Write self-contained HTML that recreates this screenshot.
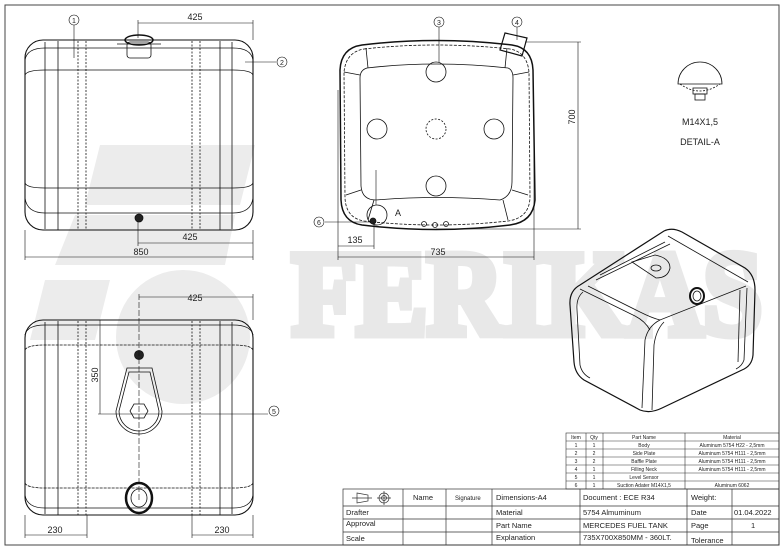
<!DOCTYPE html>
<html><head><meta charset="utf-8"><style>
html,body{margin:0;padding:0;background:#fff}
svg{display:block}
text{font-family:"Liberation Sans",sans-serif;fill:#222}
text.wm{font-family:"Liberation Serif",serif;font-weight:bold;fill:#e8e8e8;stroke:#e8e8e8;stroke-width:9;stroke-linejoin:miter}
</style></head><body>
<svg width="784" height="552" viewBox="0 0 784 552" xmlns="http://www.w3.org/2000/svg">
<!-- watermark -->
<g fill="#ececec">
<polygon points="100,145 255,145 240,205 85,205"/>
<polygon points="75,215 235,215 225,265 55,265"/>
<polygon points="45,280 110,280 95,340 30,340"/>
<circle cx="183" cy="337" r="67"/>
</g>
<text class="wm" x="292" y="334" font-size="120" textLength="470" lengthAdjust="spacingAndGlyphs">FERIKAS</text>
<!-- frame -->
<rect x="5" y="5" width="774" height="540" fill="none" stroke="#444" stroke-width="1"/>

<g fill="none" stroke="#111" stroke-width="0.8">
<!-- top-left view -->
<rect x="25" y="40" width="228" height="190" rx="18" stroke-width="1.1"/>
<path d="M25,60 Q27,48 45,48 L233,48 Q251,48 253,60"/>
<path d="M25,75 Q27,70 45,70 L233,70 Q251,70 253,75"/>
<path d="M25,183 Q27,188 45,188 L233,188 Q251,188 253,183"/>
<path d="M25,198 Q27,213 45,213 L233,213 Q251,213 253,198"/>
<line x1="45" y1="42" x2="45" y2="229"/><line x1="58" y1="41" x2="58" y2="230"/>
<line x1="220" y1="41" x2="220" y2="230"/><line x1="232" y1="42" x2="232" y2="229"/>
<g stroke-dasharray="2,1.5"><line x1="78" y1="41" x2="78" y2="230"/><line x1="86" y1="41" x2="86" y2="230"/>
<line x1="192" y1="41" x2="192" y2="230"/><line x1="200" y1="41" x2="200" y2="230"/></g>
<ellipse cx="139" cy="40" rx="14" ry="5" stroke-width="1.5"/>
<rect x="127" y="42" width="24" height="16" rx="3"/>
<path d="M117,44 H161"/>
<circle cx="139" cy="218" r="4" fill="#222"/>
<g stroke-width="0.6">
<line x1="138" y1="23" x2="253" y2="23"/><line x1="138" y1="20" x2="138" y2="38"/><line x1="253" y1="20" x2="253" y2="40"/>
<line x1="138" y1="243" x2="253" y2="243"/><line x1="138" y1="222" x2="138" y2="246"/><line x1="253" y1="230" x2="253" y2="260"/>
<line x1="25" y1="257" x2="253" y2="257"/><line x1="25" y1="230" x2="25" y2="260"/>
<line x1="74" y1="25" x2="74" y2="58"/><line x1="245" y1="62" x2="276" y2="62"/>
</g>
<circle cx="74" cy="20" r="5" stroke-width="0.6"/><circle cx="282" cy="62" r="5" stroke-width="0.6"/>

<!-- bottom-left view -->
<rect x="25" y="320" width="228" height="195" rx="18" stroke-width="1.1"/>
<path d="M25,335 Q27,325 45,325 L233,325 Q251,325 253,335"/>
<path d="M25,350 Q27,345 45,345 L233,345 Q251,345 253,350" stroke-dasharray="3,1"/>
<path d="M25,483 Q27,488 45,488 L233,488 Q251,488 253,483" stroke-dasharray="3,1"/>
<path d="M25,495 Q27,508 45,508 L233,508 Q251,508 253,495"/>
<line x1="45" y1="322" x2="45" y2="514"/><line x1="58" y1="321" x2="58" y2="515"/>
<line x1="220" y1="321" x2="220" y2="515"/><line x1="232" y1="322" x2="232" y2="514"/>
<g stroke-dasharray="2,1.5"><line x1="78" y1="321" x2="78" y2="515"/><line x1="86" y1="321" x2="86" y2="515"/>
<line x1="192" y1="321" x2="192" y2="515"/><line x1="200" y1="321" x2="200" y2="515"/></g>
<circle cx="139" cy="355" r="4.5" fill="#222"/>
<path d="M127,368 L152,368 L162,411 A23,23 0 1,1 116,411 Z"/>
<path d="M129,372 L150,372 L159,411 A20,20 0 1,1 119,411 Z"/>
<polygon points="134,404 144,404 148,411 144,418 134,418 130,411"/>
<ellipse cx="139" cy="498" rx="13" ry="15" stroke-width="2.5"/>
<ellipse cx="139" cy="498" rx="8" ry="9"/>
<g stroke-width="0.6">
<line x1="139" y1="297" x2="253" y2="297"/><line x1="139" y1="294" x2="139" y2="500" stroke-dasharray="6,2"/><line x1="253" y1="294" x2="253" y2="320"/>
<line x1="100" y1="320" x2="100" y2="414"/><line x1="98" y1="414" x2="268" y2="414"/>
<line x1="25" y1="535" x2="87" y2="535"/><line x1="25" y1="515" x2="25" y2="538"/><line x1="87" y1="515" x2="87" y2="538"/>
<line x1="192" y1="535" x2="253" y2="535"/><line x1="192" y1="515" x2="192" y2="538"/><line x1="253" y1="515" x2="253" y2="538"/>
</g>
<circle cx="274" cy="411" r="5" stroke-width="0.6"/>

<!-- middle view -->
<path d="M362,45 Q436,36 512,45 Q532,48 533,70 L535,200 Q533,222 510,225 Q436,234 362,225 Q342,222 341,200 L340,70 Q341,48 362,45 Z" stroke-width="1.5"/>
<path d="M364,49 Q436,41 510,49 Q527,52 529,72 L530,198 Q529,218 508,221 Q436,229 364,221 Q346,218 345,198 L344,72 Q346,52 364,49 Z" stroke-dasharray="3,1.5"/>
<path d="M367,68 Q436,60 508,68 Q513,70 513,78 L512,182 Q512,196 500,200 Q436,195 376,200 Q362,200 361,186 L360,78 Q360,70 367,68 Z"/>
<line x1="360" y1="75" x2="344" y2="72"/><line x1="513" y1="75" x2="529" y2="72"/>
<line x1="361" y1="190" x2="346" y2="195"/><line x1="512" y1="190" x2="528" y2="195"/>
<line x1="368" y1="68" x2="366" y2="48"/><line x1="505" y1="68" x2="507" y2="48"/>
<line x1="374" y1="200" x2="368" y2="220"/><line x1="503" y1="200" x2="508" y2="220"/>
<circle cx="436" cy="72" r="10"/><circle cx="377" cy="129" r="10"/><circle cx="494" cy="129" r="10"/><circle cx="436" cy="186" r="10"/>
<circle cx="436" cy="129" r="10" stroke-dasharray="2,1.5"/>
<circle cx="424" cy="224" r="2.5"/><circle cx="435" cy="225" r="2.5"/><circle cx="446" cy="224" r="2.5"/>
<polygon points="505,33 527,38 522,56 500,50" stroke-width="1.2"/>
<circle cx="377" cy="215" r="10"/>
<circle cx="373" cy="221" r="3" fill="#222"/>
<g stroke-width="0.6">
<line x1="525" y1="42" x2="581" y2="42"/><line x1="436" y1="229" x2="581" y2="229"/><line x1="578" y1="42" x2="578" y2="229"/>
<line x1="338" y1="90" x2="338" y2="260"/><line x1="534" y1="150" x2="534" y2="260"/>
<line x1="338" y1="257" x2="534" y2="257"/>
<line x1="338" y1="246" x2="374" y2="246"/><line x1="374" y1="222" x2="374" y2="249"/>
<line x1="325" y1="222" x2="370" y2="222"/>
<line x1="376" y1="170" x2="376" y2="205"/>
<line x1="439" y1="27" x2="439" y2="62"/><line x1="517" y1="27" x2="517" y2="40"/>
</g>
<circle cx="439" cy="22" r="5" stroke-width="0.6"/><circle cx="517" cy="22" r="5" stroke-width="0.6"/><circle cx="319" cy="222" r="5" stroke-width="0.6"/>

<!-- detail A -->
<path d="M678,84 A22,22 0 0,1 722,84 Z"/>
<path d="M680,84 Q700,98 720,84" stroke-dasharray="2,1.5"/>
<rect x="693" y="88" width="14" height="6"/><rect x="695" y="94" width="10" height="6"/>

<!-- iso view -->
<path d="M664,231 Q672,227 682,232 L745,268 Q755,275 755,290 L753,355 Q752,366 742,370 L662,408 Q650,414 640,410 L584,380 Q575,374 574,362 L570,305 Q569,291 580,285 Z" stroke-width="1.2"/>
<path d="M668,236 L748,282"/>
<path d="M580,289 L635,316 Q645,321 650,330"/>
<path d="M588,286 L640,312 Q652,318 660,320 L746,286"/>
<path d="M660,320 Q648,326 645,340 L642,408"/>
<path d="M664,322 Q656,330 654,345 L652,410"/>
<path d="M583,292 Q576,298 577,310 L580,365 Q582,374 590,378"/>
<path d="M747,288 L744,360 Q742,366 736,369"/><path d="M740,290 L738,362"/>
<path d="M600,275 L665,242"/><path d="M596,280 L670,244"/>
<path d="M632,262 L655,255 Q670,258 670,268 Q668,278 656,278 Z"/>
<ellipse cx="656" cy="268" rx="5" ry="3"/>
<ellipse cx="697" cy="296" rx="7" ry="8" stroke-width="2"/>
<ellipse cx="697" cy="296" rx="4" ry="5"/>
</g>
<g font-size="9" text-anchor="middle">
<text x="195" y="20">425</text><text x="190" y="240">425</text><text x="141" y="255">850</text>
<text x="195" y="301">425</text><text x="55" y="533">230</text><text x="222" y="533">230</text>
<text x="438" y="255">735</text><text x="355" y="243">135</text>
<text x="74" y="23" font-size="7">1</text><text x="282" y="65" font-size="7">2</text>
<text x="439" y="25" font-size="7">3</text><text x="517" y="25" font-size="7">4</text>
<text x="274" y="414" font-size="7">5</text><text x="319" y="225" font-size="7">6</text>
<text x="700" y="125">M14X1,5</text><text x="700" y="145">DETAIL-A</text>
</g>
<text x="395" y="216" font-size="9">A</text>
<text font-size="9" text-anchor="middle" transform="translate(98,375) rotate(-90)">350</text>
<text font-size="9" text-anchor="middle" transform="translate(575,117) rotate(-90)">700</text>

<!-- parts table -->
<g fill="none" stroke="#333" stroke-width="0.6">
<rect x="566" y="433" width="213" height="56"/>
<line x1="586" y1="433" x2="586" y2="489"/><line x1="603" y1="433" x2="603" y2="489"/><line x1="685" y1="433" x2="685" y2="489"/>
<line x1="566" y1="441" x2="779" y2="441"/><line x1="566" y1="449" x2="779" y2="449"/><line x1="566" y1="457" x2="779" y2="457"/>
<line x1="566" y1="465" x2="779" y2="465"/><line x1="566" y1="473" x2="779" y2="473"/><line x1="566" y1="481" x2="779" y2="481"/>
</g>
<g font-size="5" text-anchor="middle">
<text x="576" y="439">Item</text><text x="594" y="439">Qty</text><text x="644" y="439">Part Name</text><text x="732" y="439">Material</text>
<text x="576" y="447">1</text><text x="594" y="447">1</text><text x="644" y="447">Body</text><text x="732" y="447">Aluminum 5754 H22 - 2,5mm</text>
<text x="576" y="455">2</text><text x="594" y="455">2</text><text x="644" y="455">Side Plate</text><text x="732" y="455">Aluminum 5754 H111 - 2,5mm</text>
<text x="576" y="463">3</text><text x="594" y="463">2</text><text x="644" y="463">Baffle Plate</text><text x="732" y="463">Aluminum 5754 H111 - 2,5mm</text>
<text x="576" y="471">4</text><text x="594" y="471">1</text><text x="644" y="471">Filling Neck</text><text x="732" y="471">Aluminum 5754 H111 - 2,5mm</text>
<text x="576" y="479">5</text><text x="594" y="479">1</text><text x="644" y="479">Level Sensor</text>
<text x="576" y="487">6</text><text x="594" y="487">1</text><text x="644" y="487">Suction Adater M14X1,5</text><text x="732" y="487">Aluminum 6062</text>
</g>

<!-- title block -->
<g fill="none" stroke="#333" stroke-width="0.7">
<rect x="343" y="489" width="436" height="56"/>
<line x1="343" y1="506" x2="779" y2="506"/><line x1="343" y1="519" x2="779" y2="519"/><line x1="343" y1="532" x2="779" y2="532"/>
<line x1="403" y1="489" x2="403" y2="545"/><line x1="446" y1="489" x2="446" y2="545"/><line x1="492" y1="489" x2="492" y2="545"/>
<line x1="580" y1="489" x2="580" y2="545"/><line x1="687" y1="489" x2="687" y2="545"/><line x1="732" y1="489" x2="732" y2="545"/>
<path d="M357,493 L368,495 L368,501 L357,503 Z M352,498 H372"/>
<circle cx="384" cy="498" r="5"/><circle cx="384" cy="498" r="2.5"/><path d="M377,498 H391 M384,491 V505"/>
</g>
<g font-size="7.5">
<text x="413" y="500">Name</text><text x="455" y="500" font-size="6">Signature</text>
<text x="496" y="500">Dimensions-A4</text><text x="583" y="500">Document : ECE R34</text><text x="691" y="500">Weight:</text>
<text x="346" y="515">Drafter</text><text x="496" y="515">Material</text><text x="583" y="515">5754 Almuminum</text><text x="691" y="515">Date</text><text x="734" y="515">01.04.2022</text>
<text x="346" y="526">Approval</text><text x="496" y="528">Part Name</text><text x="583" y="528">MERCEDES FUEL TANK</text><text x="691" y="528">Page</text><text x="751" y="528">1</text>
<text x="346" y="541">Scale</text><text x="496" y="540">Explanation</text><text x="583" y="540">735X700X850MM - 360LT.</text><text x="691" y="543">Tolerance</text>
</g>
</svg>
</body></html>
